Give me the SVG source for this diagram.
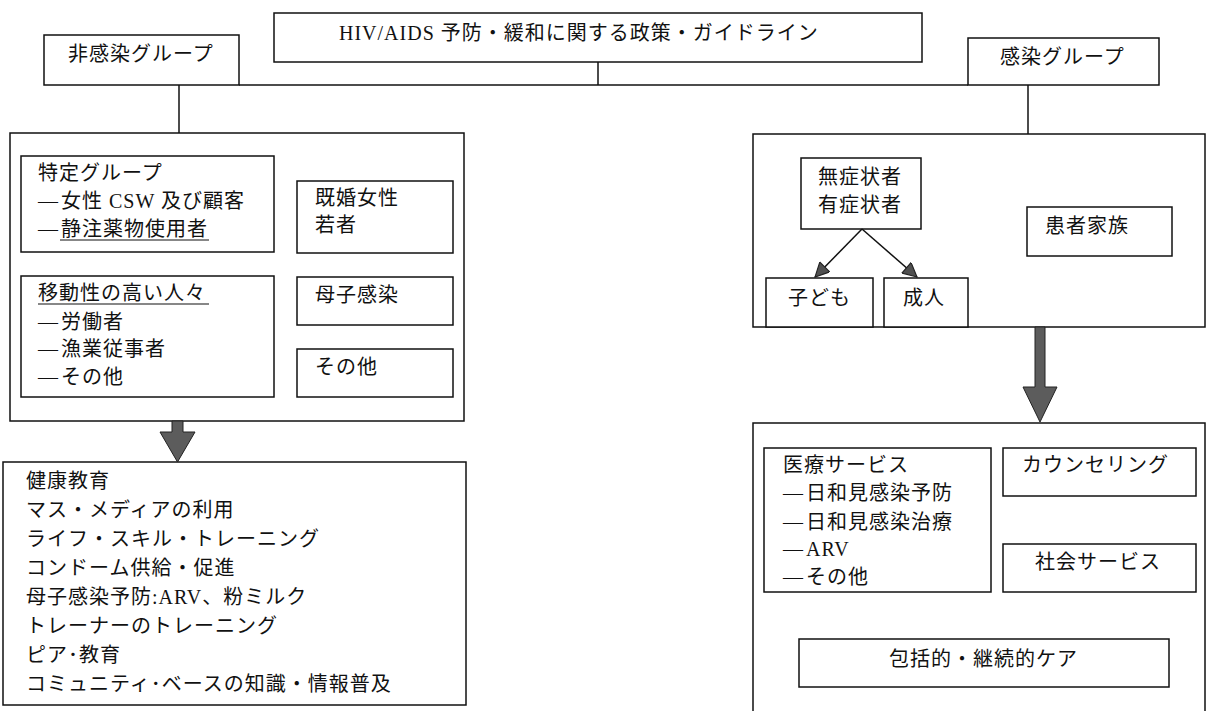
<svg xmlns="http://www.w3.org/2000/svg" width="1209" height="711" viewBox="0 0 1209 711">
<style>
.b{fill:#fff;stroke:#111;stroke-width:1.5}
.o{fill:none;stroke:#111;stroke-width:1.5}
.t{font-family:"Liberation Serif","Noto Sans CJK JP",serif;font-size:20px;letter-spacing:1px;fill:#111;dominant-baseline:central}
.d{letter-spacing:3px}
.ln{stroke:#111;stroke-width:1.5;fill:none}
.ul{stroke:#111;stroke-width:1.2}
.big{fill:#5c5c5c;stroke:#222;stroke-width:1}
</style>
<defs>
<marker id="ah" viewBox="0 0 10 10" refX="10" refY="5" markerWidth="17" markerHeight="14" markerUnits="userSpaceOnUse" orient="auto">
<path d="M0,0 L10,5 L0,10 z" fill="#505050" stroke="#222" stroke-width="0.8"/>
</marker>
</defs>
<rect width="1209" height="711" fill="#fff"/>

<g id="policy">
<rect class="b" x="274" y="13" width="648" height="49"/>
<text class="t" x="339" y="33">HIV/AIDS 予防・緩和に関する政策・ガイドライン</text>
</g>

<g id="uninfected">
<rect class="b" x="44" y="35" width="195" height="50"/>
<text class="t" x="68" y="54">非感染グループ</text>
</g>

<g id="infected">
<rect class="b" x="968" y="38" width="191" height="47"/>
<text class="t" x="1000" y="57">感染グループ</text>
</g>

<g id="uninfected-groups">
<rect class="b" x="10" y="133" width="454" height="288"/>
</g>

<g id="specific-group">
<rect class="b" x="21" y="156" width="253" height="96"/>
<text class="t" x="38" y="173">特定グループ</text>
<text class="t" x="38" y="201"><tspan class="d">―</tspan>女性 CSW 及び顧客</text>
<text class="t" x="38" y="229"><tspan class="d">―</tspan>静注薬物使用者</text>
<line class="ul" x1="60" y1="240" x2="209" y2="240"/>
</g>

<g id="mobile-group">
<rect class="b" x="21" y="276" width="253" height="121"/>
<text class="t" x="38" y="293">移動性の高い人々</text>
<line class="ul" x1="38" y1="304" x2="209" y2="304"/>
<text class="t" x="38" y="322"><tspan class="d">―</tspan>労働者</text>
<text class="t" x="38" y="349"><tspan class="d">―</tspan>漁業従事者</text>
<text class="t" x="38" y="377"><tspan class="d">―</tspan>その他</text>
</g>

<g id="married-youth">
<rect class="b" x="297" y="181" width="156" height="72"/>
<text class="t" x="315" y="198">既婚女性</text>
<text class="t" x="315" y="225">若者</text>
</g>

<g id="mtct">
<rect class="b" x="297" y="277" width="156" height="48"/>
<text class="t" x="315" y="295">母子感染</text>
</g>

<g id="others-left">
<rect class="b" x="297" y="349" width="156" height="48"/>
<text class="t" x="315" y="367">その他</text>
</g>

<g id="prevention">
<rect class="b" x="3" y="462" width="463" height="243"/>
<text class="t" x="26" y="481">健康教育</text>
<text class="t" x="26" y="510">マス・メディアの利用</text>
<text class="t" x="26" y="539">ライフ・スキル・トレーニング</text>
<text class="t" x="26" y="568">コンドーム供給・促進</text>
<text class="t" x="26" y="597">母子感染予防:ARV、粉ミルク</text>
<text class="t" x="26" y="626">トレーナーのトレーニング</text>
<text class="t" x="26" y="655">ピア･教育</text>
<text class="t" x="26" y="684">コミュニティ･ベースの知識・情報普及</text>
</g>

<g id="infected-groups">
<rect class="b" x="753" y="134" width="452" height="193"/>
</g>

<g id="symptom">
<rect class="b" x="801" y="158" width="120" height="71"/>
<text class="t" x="818" y="177">無症状者</text>
<text class="t" x="818" y="205">有症状者</text>
</g>

<g id="family">
<rect class="b" x="1027" y="207" width="145" height="49"/>
<text class="t" x="1045" y="226">患者家族</text>
</g>

<g id="children">
<rect class="b" x="766" y="278" width="107" height="49"/>
<text class="t" x="788" y="298">子ども</text>
</g>

<g id="adults">
<rect class="b" x="884" y="278" width="84" height="49"/>
<text class="t" x="903" y="298">成人</text>
</g>

<g id="care">
<path class="o" d="M753,711 V423 H1205 V711"/>
</g>

<g id="medical">
<rect class="b" x="764" y="448" width="227" height="144"/>
<text class="t" x="783" y="465">医療サービス</text>
<text class="t" x="783" y="493"><tspan class="d">―</tspan>日和見感染予防</text>
<text class="t" x="783" y="522"><tspan class="d">―</tspan>日和見感染治療</text>
<text class="t" x="783" y="549"><tspan class="d">―</tspan>ARV</text>
<text class="t" x="783" y="577"><tspan class="d">―</tspan>その他</text>
</g>

<g id="counseling">
<rect class="b" x="1003" y="448" width="193" height="48"/>
<text class="t" x="1022" y="465">カウンセリング</text>
</g>

<g id="social">
<rect class="b" x="1003" y="544" width="193" height="48"/>
<text class="t" x="1035" y="562">社会サービス</text>
</g>

<g id="continuum">
<rect class="b" x="799" y="639" width="370" height="48"/>
<text class="t" x="889" y="659">包括的・継続的ケア</text>
</g>

<g id="connectors">
<line class="ln" x1="598" y1="62" x2="598" y2="85"/>
<line class="ln" x1="239" y1="85" x2="968" y2="85"/>
<line class="ln" x1="179" y1="85" x2="179" y2="133"/>
<line class="ln" x1="1028" y1="85" x2="1028" y2="134"/>
<line class="ln" x1="862" y1="229" x2="815" y2="277" marker-end="url(#ah)"/>
<line class="ln" x1="862" y1="229" x2="917" y2="277" marker-end="url(#ah)"/>
<path class="big" d="M172,421 H183 V432 H195 L177.5,462 L160,432 H172 Z"/>
<path class="big" d="M1035,327 H1045 V387 H1057 L1040,422 L1023,387 H1035 Z"/>
</g>
</svg>
